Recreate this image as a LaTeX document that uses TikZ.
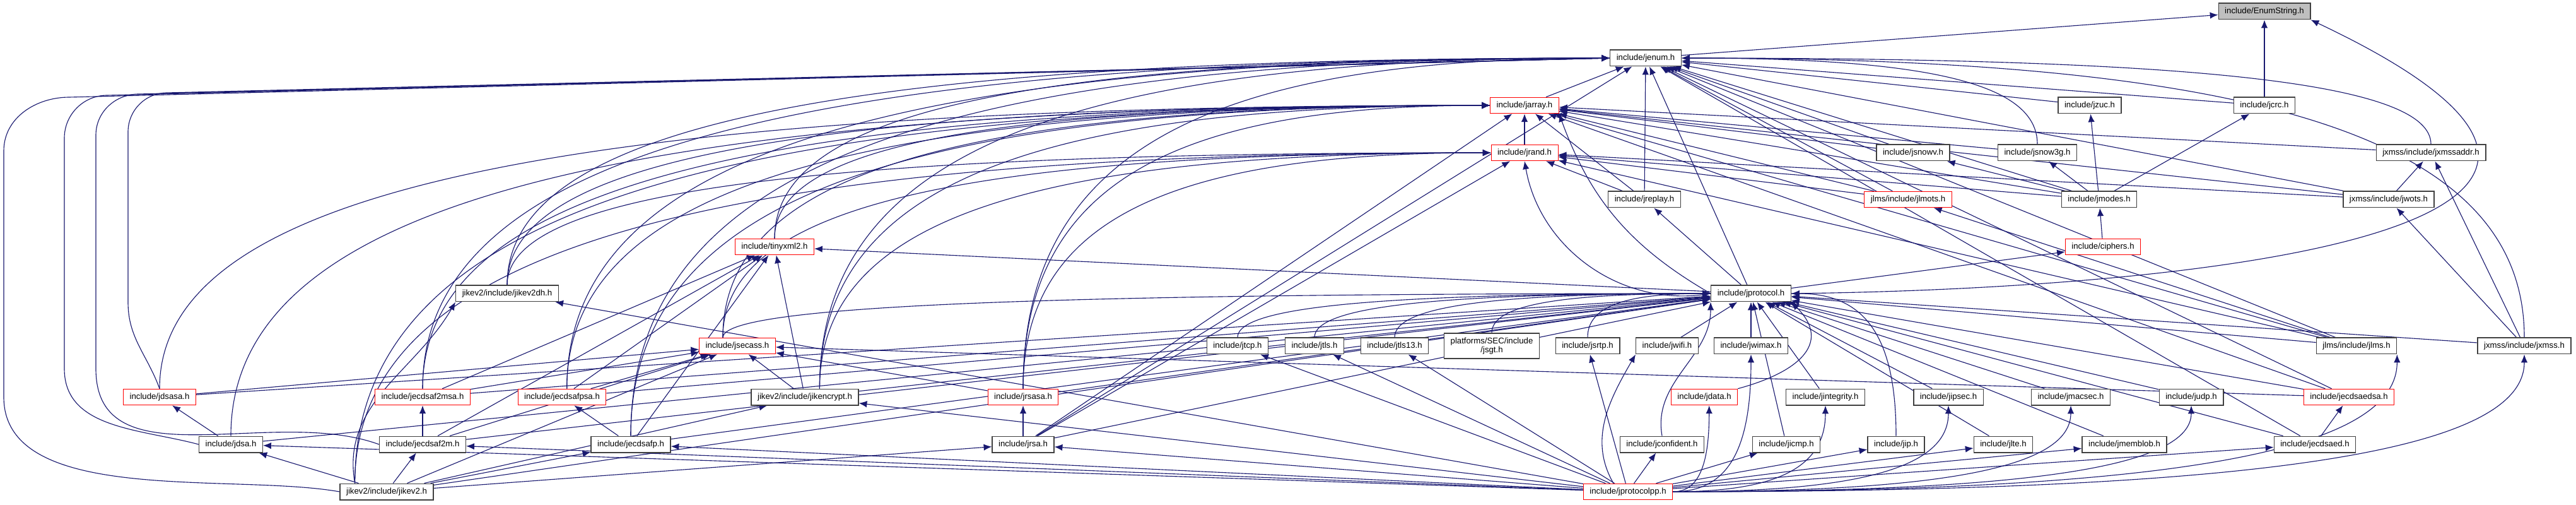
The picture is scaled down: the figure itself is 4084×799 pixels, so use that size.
\documentclass[tikz,border=0pt]{standalone}
\usepackage{fontspec}
\setmainfont{Liberation Sans}
\usetikzlibrary{arrows.meta,calc,backgrounds}
\definecolor{EdgeNavy}{HTML}{191970}
\definecolor{BoxGray}{HTML}{404040}
\definecolor{BoxRed}{HTML}{FF0000}
\definecolor{EnumGray}{HTML}{BFBFBF}

\begin{document}
\begin{tikzpicture}[x=0.25mm, y=0.25mm,
    every node/.style={font=\fontsize{9.4}{10.5}\selectfont},
    file/.style={draw=BoxGray, line width=0.35mm, fill=white, inner xsep=2.5mm, inner ysep=0pt, minimum height=6.4mm},
    redfile/.style={file, draw=BoxRed, line width=0.25mm},
    inc/.style={-{Latex[length=3.2mm,width=2.6mm]}, draw=EdgeNavy, line width=0.28mm},
    bendup/.style={to path={.. controls ($(\tikztostart)!#1!(\tikztostart|-\tikztotarget)$) and ($(\tikztotarget)!#1!(\tikztostart|-\tikztotarget)$) .. (\tikztotarget) \tikztonodes}},
    bendup/.default=0.7,
    bendover/.style={to path={.. controls ($(\tikztostart)!#1!(\tikztotarget|-\tikztostart)$) and ($(\tikztotarget)!#1!(\tikztotarget|-\tikztostart)$) .. (\tikztotarget) \tikztonodes}},
    bendover/.default=0.7]
  \useasboundingbox (0,0) rectangle (4084,799);

  \node[file, fill=EnumGray] (enumstr) at (3590,781) {include/EnumString.h};
  \node[file] (jenum) at (2609,707) {include/jenum.h};
  \node[redfile] (jarray) at (2417,632) {include/jarray.h};
  \node[file] (jzuc) at (3313,632) {include/jzuc.h};
  \node[file] (jcrc) at (3590,632) {include/jcrc.h};
  \node[redfile] (jrand) at (2417,557) {include/jrand.h};
  \node[file] (jsnowv) at (3033,557) {include/jsnowv.h};
  \node[file] (jsnow3g) at (3230,557) {include/jsnow3g.h};
  \node[file] (jxmssaddr) at (3854,557) {jxmss/include/jxmssaddr.h};
  \node[file] (jreplay) at (2607,483) {include/jreplay.h};
  \node[redfile] (jlmots) at (3025,483) {jlms/include/jlmots.h};
  \node[file] (jmodes) at (3328,483) {include/jmodes.h};
  \node[file] (jwots) at (3787,483) {jxmss/include/jwots.h};
  \node[redfile] (tinyxml2) at (1228,408) {include/tinyxml2.h};
  \node[redfile] (ciphers) at (3334,408) {include/ciphers.h};
  \node[file] (jikev2dh) at (804,334) {jikev2/include/jikev2dh.h};
  \node[file] (jprotocol) at (2776,334) {include/jprotocol.h};

  \node[redfile] (jsecass) at (1169,251) {include/jsecass.h};
  \node[file] (jtcp) at (1962,251) {include/jtcp.h};
  \node[file] (jtls) at (2084,251) {include/jtls.h};
  \node[file] (jtls13) at (2211,251) {include/jtls13.h};
  \node[file, minimum height=10mm, align=center, font=\fontsize{9.4}{10}\selectfont] (jsgt) at (2365,251) {platforms/SEC/include\\/jsgt.h};
  \node[file] (jsrtp) at (2517,251) {include/jsrtp.h};
  \node[file] (jwifi) at (2643,251) {include/jwifi.h};
  \node[file] (jwimax) at (2776,251) {include/jwimax.h};
  \node[file] (jlms) at (3736,251) {jlms/include/jlms.h};
  \node[file] (jxmss) at (4002,251) {jxmss/include/jxmss.h};

  \node[redfile] (jdsasa) at (253,170) {include/jdsasa.h};
  \node[redfile] (jecdsaf2msa) at (670,170) {include/jecdsaf2msa.h};
  \node[redfile] (jecdsafpsa) at (891,170) {include/jecdsafpsa.h};
  \node[file] (jikencrypt) at (1276,170) {jikev2/include/jikencrypt.h};
  \node[redfile] (jrsasa) at (1622,170) {include/jrsasa.h};
  \node[redfile] (jdata) at (2702,170) {include/jdata.h};
  \node[file] (jintegrity) at (2894,170) {include/jintegrity.h};
  \node[file] (jipsec) at (3089,170) {include/jipsec.h};
  \node[file] (jmacsec) at (3283,170) {include/jmacsec.h};
  \node[file] (judp) at (3474,170) {include/judp.h};
  \node[redfile] (jecdsaedsa) at (3724,170) {include/jecdsaedsa.h};

  \node[file] (jdsa) at (366,95) {include/jdsa.h};
  \node[file] (jecdsaf2m) at (670,95) {include/jecdsaf2m.h};
  \node[file] (jecdsafp) at (1000,95) {include/jecdsafp.h};
  \node[file] (jrsa) at (1622,95) {include/jrsa.h};
  \node[file] (jconfident) at (2635,95) {include/jconfident.h};
  \node[file] (jicmp) at (2832,95) {include/jicmp.h};
  \node[file] (jip) at (3006,95) {include/jip.h};
  \node[file] (jlte) at (3176,95) {include/jlte.h};
  \node[file] (jmemblob) at (3368,95) {include/jmemblob.h};
  \node[file] (jecdsaed) at (3670,95) {include/jecdsaed.h};

  \node[file] (jikev2) at (613,20) {jikev2/include/jikev2.h};
  \node[redfile] (jprotocolpp) at (2581,20) {include/jprotocolpp.h};

  \coordinate (lpa1) at (6,170);
  \coordinate (lpa2) at (6,560);
  \coordinate (lpa3) at (110,645);
  \coordinate (lpb1) at (102,215);
  \coordinate (lpb2) at (102,580);
  \coordinate (lpb3) at (170,648);
  \coordinate (lpc1) at (152,215);
  \coordinate (lpc2) at (152,585);
  \coordinate (lpc3) at (220,650);
  \coordinate (lpd1) at (203,320);
  \coordinate (lpd2) at (203,590);
  \coordinate (lpd3) at (265,652);

  \begin{scope}[on background layer]
    \fill[white] (0,0) rectangle (4084,799);

    \draw[inc] (jenum) -- (enumstr);
    \draw[inc] (jcrc) -- (enumstr);
    \draw[inc] (jprotocol.east) .. controls (3400,340) and (4400,420) .. (enumstr.south east);

    \draw[inc] (jarray) -- (jenum);
    \draw[inc] (jreplay) -- (jenum);
    \draw[inc] (jprotocol) -- (jenum);
    \draw[inc] (jzuc) -- (jenum);
    \draw[inc] (jcrc) -- (jenum);
    \draw[inc] (jsnowv) -- (jenum);
    \draw[inc] (jlmots) -- (jenum);
    \draw[inc] (jmodes) -- (jenum);
    \draw[inc] (jwots) -- (jenum);
    \draw[inc] (jlms) -- (jenum);
    \draw[inc] (jecdsaed) -- (jenum);
    \draw[inc] (jecdsaedsa) -- (jenum);
    \draw[inc] (jsnow3g.north) to[bendup] (jenum.east);
    \draw[inc] (jxmssaddr.north) to[bendup] (jenum.east);
    \draw[inc] (jxmss.north) to[bendup] (jenum.east);
    \draw[inc] (jikev2.west) to[out=170,in=-90,looseness=0.8] (lpa1) -- (lpa2) to[out=90,in=180] (lpa3) -- (jenum.west);
    \draw[inc] (jdsa.west) to[out=165,in=-90] (lpb1) -- (lpb2) to[out=90,in=180] (lpb3) -- (jenum.west);
    \draw[inc] (jecdsaf2m.west) to[out=160,in=-90] (lpc1) -- (lpc2) to[out=90,in=180] (lpc3) -- (jenum.west);
    \draw[inc] (jdsasa.north) to[out=110,in=-90] (lpd1) -- (lpd2) to[out=90,in=180] (lpd3) -- (jenum.west);
    \draw[inc] (jecdsaf2msa.north) to[bendup] (jenum.west);
    \draw[inc] (jecdsafpsa.60) to[bendup] (jenum.west);
    \draw[inc] (jecdsafp.north) to[bendup] (jenum.west);
    \draw[inc] (jikev2dh.north) to[bendup] (jenum.west);
    \draw[inc] (jikencrypt.30) to[bendup] (jenum.west);
    \draw[inc] (jrsasa.north) to[bendup] (jenum.west);
    \draw[inc] (tinyxml2.north) to[bendup] (jenum.west);
    \draw[inc] (jrsa) -- (jenum);

    \draw[inc] (jrand) -- (jarray);
    \draw[inc] (jreplay) -- (jarray);
    \draw[inc] (jprotocol.west) to[out=150,in=-70] (jarray.south east);
    \draw[inc] (jlmots) -- (jarray);
    \draw[inc] (jsnowv) -- (jarray);
    \draw[inc] (jsnow3g) -- (jarray);
    \draw[inc] (jxmssaddr) -- (jarray);
    \draw[inc] (jmodes) -- (jarray);
    \draw[inc] (jwots) -- (jarray);
    \draw[inc] (jlms) -- (jarray);
    \draw[inc] (jecdsaedsa) -- (jarray);
    \draw[inc] (jikev2.165) to[bendup] (jarray.west);
    \draw[inc] (jdsa.north) to[bendup] (jarray.west);
    \draw[inc] (jdsasa.north) to[bendup] (jarray.west);
    \draw[inc] (jecdsaf2msa.north) to[bendup] (jarray.west);
    \draw[inc] (jecdsafpsa.60) to[bendup] (jarray.west);
    \draw[inc] (jecdsafp.north) to[bendup] (jarray.west);
    \draw[inc] (jikev2dh.north) to[bendup] (jarray.west);
    \draw[inc] (jikencrypt.30) to[bendup] (jarray.west);
    \draw[inc] (jrsasa.north) to[bendup] (jarray.west);
    \draw[inc] (tinyxml2.north) to[bendup] (jarray.west);
    \draw[inc] (jsecass.150) to[bendup] (jarray.west);
    \draw[inc] (jrsa) -- (jarray);

    \draw[inc] (jreplay) -- (jrand);
    \draw[inc] (jprotocol.west) to[out=190,in=-80] (jrand.south);
    \draw[inc] (jlmots) -- (jrand);
    \draw[inc] (jmodes) -- (jrand);
    \draw[inc] (jwots) -- (jrand);
    \draw[inc] (jlms) -- (jrand);
    \draw[inc] (jikev2.165) to[bendup] (jrand.west);
    \draw[inc] (jikev2dh.north) to[bendup] (jrand.west);
    \draw[inc] (jsecass.150) to[bendup] (jrand.west);
    \draw[inc] (jikencrypt.30) to[bendup] (jrand.west);
    \draw[inc] (jrsasa.north) to[bendup] (jrand.west);
    \draw[inc] (jrsa) -- (jrand);

    \draw[inc] (jprotocol) -- (jreplay);
    \draw[inc] (jmodes) -- (jzuc);
    \draw[inc] (jmodes) -- (jcrc);
    \draw[inc] (jmodes) -- (jsnowv);
    \draw[inc] (jmodes) -- (jsnow3g);
    \draw[inc] (jwots) -- (jxmssaddr);
    \draw[inc] (jxmss) -- (jxmssaddr);
    \draw[inc] (jxmss) -- (jwots);
    \draw[inc] (jlms) -- (jlmots);
    \draw[inc] (ciphers) -- (jmodes);
    \draw[inc] (jprotocol) -- (ciphers);
    \draw[inc] (jprotocol) -- (tinyxml2);

    \draw[inc] (jecdsaf2msa) -- (tinyxml2);
    \draw[inc] (jecdsafpsa) -- (tinyxml2);
    \draw[inc] (jecdsaf2m) -- (tinyxml2);
    \draw[inc] (jecdsafp) -- (tinyxml2);
    \draw[inc] (jikencrypt) -- (tinyxml2);

    \draw[inc] (jikev2.165) to[out=100,in=-120] (jikev2dh.south west);
    \draw[inc] (jprotocolpp) -- (jikev2dh);

    \draw[inc] (jsecass.150) to[bendup] (jprotocol.west);
    \draw[inc] (jtcp.north) to[bendup] (jprotocol.west);
    \draw[inc] (jtls.north) to[bendup] (jprotocol.west);
    \draw[inc] (jtls13.north) to[bendup] (jprotocol.west);
    \draw[inc] (jsgt.north) to[bendup] (jprotocol.west);
    \draw[inc] (jsrtp.north) to[bendup] (jprotocol.west);
    \draw[inc] (jwifi) -- (jprotocol);
    \draw[inc] (jwimax) -- (jprotocol);
    \draw[inc] (jdsasa) -- (jprotocol);
    \draw[inc] (jecdsaf2msa) -- (jprotocol);
    \draw[inc] (jecdsafpsa) -- (jprotocol);
    \draw[inc] (jikencrypt) -- (jprotocol);
    \draw[inc] (jrsasa) -- (jprotocol);
    \draw[inc] (jdsa) -- (jprotocol);
    \draw[inc] (jecdsaf2m) -- (jprotocol);
    \draw[inc] (jecdsafp) -- (jprotocol);
    \draw[inc] (jrsa) -- (jprotocol);
    \draw[inc] (jikev2) -- (jprotocol);
    \draw[inc] (jdata.north east) to[out=15,in=-45,looseness=1.5] (jprotocol.south east);
    \draw[inc] (jconfident.north) to[out=100,in=-90] (jprotocol.south west);
    \draw[inc] (jicmp) -- (jprotocol);
    \draw[inc] (jintegrity) -- (jprotocol);
    \draw[inc] (jipsec) -- (jprotocol);
    \draw[inc] (jip.north) to[bendup] (jprotocol.east);
    \draw[inc] (jlte) -- (jprotocol);
    \draw[inc] (jmacsec) -- (jprotocol);
    \draw[inc] (judp) -- (jprotocol);
    \draw[inc] (jmemblob) -- (jprotocol);
    \draw[inc] (jecdsaed) -- (jprotocol);
    \draw[inc] (jecdsaedsa) -- (jprotocol);
    \draw[inc] (jlms) -- (jprotocol);
    \draw[inc] (jxmss) -- (jprotocol);

    \draw[inc] (jdsasa) -- (jsecass);
    \draw[inc] (jecdsaf2msa) -- (jsecass);
    \draw[inc] (jecdsafpsa) -- (jsecass);
    \draw[inc] (jecdsaf2m) -- (jsecass);
    \draw[inc] (jikencrypt) -- (jsecass);
    \draw[inc] (jikev2) -- (jsecass);
    \draw[inc] (jrsasa) -- (jsecass);
    \draw[inc] (jecdsaedsa) -- (jsecass);

    \draw[inc] (jdsa) -- (jdsasa);
    \draw[inc] (jecdsaf2m) -- (jecdsaf2msa);
    \draw[inc] (jecdsafp) -- (jecdsafpsa);
    \draw[inc] (jrsa) -- (jrsasa);
    \draw[inc] (jecdsaed) -- (jecdsaedsa);

    \draw[inc] (jikev2) -- (jdsa);
    \draw[inc] (jikev2) -- (jecdsaf2m);
    \draw[inc] (jikev2) -- (jecdsafp);
    \draw[inc] (jikev2) -- (jikencrypt);
    \draw[inc] (jikev2) -- (jrsa);

    \draw[inc] (jprotocolpp) -- (jdsa);
    \draw[inc] (jprotocolpp) -- (jecdsaf2m);
    \draw[inc] (jprotocolpp) -- (jecdsafp);
    \draw[inc] (jprotocolpp) -- (jrsa);
    \draw[inc] (jprotocolpp) -- (jikencrypt);
    \draw[inc] (jprotocolpp) -- (jtcp);
    \draw[inc] (jprotocolpp) -- (jtls);
    \draw[inc] (jprotocolpp) -- (jtls13);
    \draw[inc] (jprotocolpp) -- (jsrtp);
    \draw[inc] (jprotocolpp.150) to[out=120,in=-120] (jwifi.south west);
    \draw[inc] (jprotocolpp.east) to[bendover] (jwimax.south);
    \draw[inc] (jprotocolpp) -- (jconfident);
    \draw[inc] (jprotocolpp.east) to[bendover] (jdata.-60);
    \draw[inc] (jprotocolpp.east) to[bendover] (jintegrity.south);
    \draw[inc] (jprotocolpp.east) to[bendover] (jipsec.south);
    \draw[inc] (jprotocolpp.east) to[bendover] (jmacsec.south);
    \draw[inc] (jprotocolpp.east) to[bendover] (judp.south);
    \draw[inc] (jprotocolpp.east) to[bendover] (jlms.south east);
    \draw[inc] (jprotocolpp.east) to[bendover] (jxmss.south);
    \draw[inc] (jprotocolpp) -- (jicmp);
    \draw[inc] (jprotocolpp) -- (jip);
    \draw[inc] (jprotocolpp) -- (jlte);
    \draw[inc] (jprotocolpp) -- (jmemblob);
    \draw[inc] (jprotocolpp) -- (jecdsaed);
  \end{scope}
\end{tikzpicture}
\end{document}
